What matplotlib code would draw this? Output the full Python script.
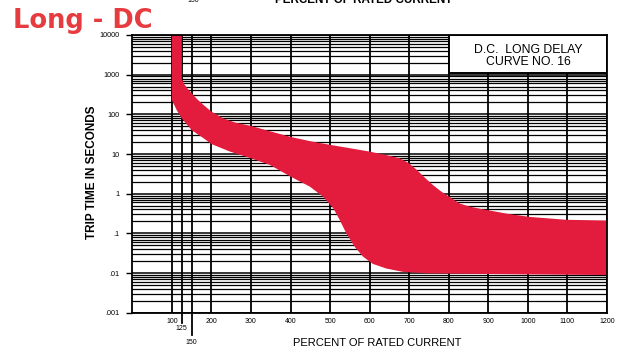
import numpy as np
import matplotlib
matplotlib.use('Agg')
import matplotlib.pyplot as plt
from matplotlib.patches import Rectangle

# ---- data ----
upper_x = [125, 125, 132, 140, 150, 165, 180, 200, 230, 260, 300, 350, 400, 450, 500, 550,
           600, 642, 676, 700, 720, 740, 760, 780, 800, 827, 850, 877, 950, 1004, 1096, 1200]
upper_y = [20000, 780, 560, 440, 340, 235, 172, 117, 79, 62, 51, 37, 27, 21, 17, 14,
           11.5, 9.4, 7.8, 5.8, 3.9, 2.5, 1.65, 1.15, 0.85, 0.57, 0.48, 0.42, 0.31, 0.26, 0.22, 0.21]
lower_x = [100, 100, 112, 125, 150, 180, 200, 247, 300, 348, 400, 449, 482, 508, 524, 541,
           562, 583, 608, 642, 684, 750, 877, 1200]
lower_y = [20000, 230, 129, 79, 40, 25, 17.8, 11.5, 7.8, 5.3, 2.7, 1.5, 0.84, 0.43, 0.22, 0.1,
           0.046, 0.026, 0.017, 0.013, 0.0107, 0.0098, 0.0095, 0.0089]

x_ticks = [100, 200, 300, 400, 500, 600, 700, 800, 900, 1000, 1100, 1200]
x_special = [125, 150]
y_ticks = [0.001, 0.01, 0.1, 1, 10, 100, 1000, 10000]
y_tick_labels = ['.001', '.01', '.1', '1', '10', '100', '1000', '10000']

title = 'Long - DC'
box_lines = ['D.C.  LONG DELAY', 'CURVE NO. 16']
xlabel = 'PERCENT OF RATED CURRENT'
ylabel = 'TRIP TIME IN SECONDS'

band_color = '#E31B3C'
title_color = '#E63B3F'

plt.rcParams['font.family'] = ['Liberation Sans', 'DejaVu Sans']

fig = plt.figure(figsize=(6.28, 3.52), dpi=100)
ax = fig.add_axes([0.2107, 0.1116, 0.7559, 0.789])
ax.set_xlim(0, 1200)
ax.set_yscale('log')
ax.set_ylim(0.001, 10000)

# horizontal grid lines (log minor grid)
for dec in range(-3, 4):
    base = 10.0 ** dec
    ax.axhline(base, color='black', lw=1.1, zorder=1)
    for m in range(2, 10):
        ax.axhline(m * base, color='black', lw=0.9, zorder=1)
ax.axhline(10000, color='black', lw=1.1, zorder=1)

# vertical grid lines
for xv in x_ticks + x_special:
    ax.axvline(xv, color='black', lw=1.3, zorder=1)

# band
poly_x = list(upper_x) + list(lower_x[::-1])
poly_y = list(upper_y) + list(lower_y[::-1])
ax.fill(poly_x, poly_y, color=band_color, lw=0, zorder=3)

# text box at top right
ax.add_patch(Rectangle((800, 1080), 400, 10000 - 1080, facecolor='white',
                       edgecolor='black', lw=1.4, zorder=4))
ax.text(1000, 10 ** 3.539, box_lines[0], ha='center', va='baseline', fontsize=8.8, zorder=5)
ax.text(1000, 10 ** 3.244, box_lines[1], ha='center', va='baseline', fontsize=8.8, zorder=5)

# ticks
ax.set_xticks(x_ticks)
ax.set_xticklabels([str(v) for v in x_ticks], fontsize=5)
ax.tick_params(axis='x', length=0, pad=4)
ax.set_yticks(y_ticks)
ax.set_yticklabels(y_tick_labels, fontsize=5.2)
ax.yaxis.set_minor_locator(matplotlib.ticker.NullLocator())
ax.tick_params(axis='y', length=4, width=1, pad=5)

# special 125 / 150 ticks extending below
trans = ax.get_xaxis_transform()
ax.plot([125, 125], [0, -0.038], transform=trans, color='black', lw=1.3, clip_on=False)
ax.plot([150, 150], [0, -0.080], transform=trans, color='black', lw=1.3, clip_on=False)
ax.text(125, -0.056, '125', transform=trans, fontsize=5, ha='center', va='center')
ax.text(150, -0.108, '150', transform=trans, fontsize=5, ha='center', va='center')

for s in ax.spines.values():
    s.set_linewidth(1.3)
    s.set_zorder(6)

# labels
fig.text(377 / 628, 1 - 343 / 352, xlabel, ha='center', va='center', fontsize=8)
fig.text(92 / 628, 1 - 172 / 352, ylabel, ha='center', va='center', fontsize=8.5,
         fontweight='bold', rotation=90)

# cut-off header text at top
fig.text(364 / 628, 1 - 3.0 / 352, xlabel, ha='center', va='baseline', fontsize=8.4,
         fontweight='bold')
fig.text(193 / 628, 1 - 1.5 / 352, '150', ha='center', va='baseline', fontsize=5)

# title
fig.text(13 / 628, 1 - 28.3 / 352, title, ha='left', va='baseline', fontsize=18.5,
         fontweight='bold', color=title_color, family=['DejaVu Sans'])

fig.savefig('out.png', dpi=100)
